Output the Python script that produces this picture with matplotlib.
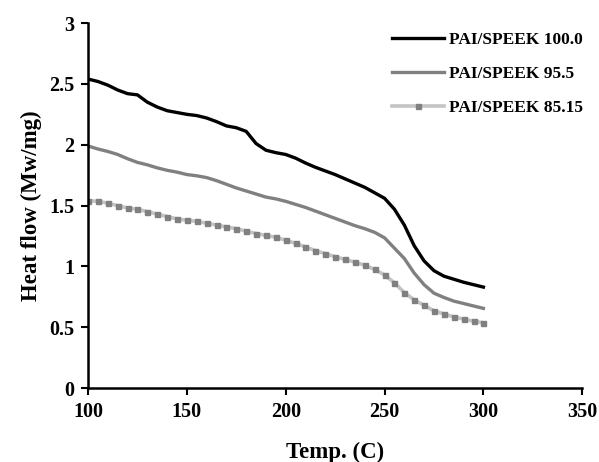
import matplotlib.pyplot as plt

plt.rcParams['font.family'] = ['Liberation Serif', 'DejaVu Serif']
plt.rcParams['font.weight'] = 'bold'

# temperature (C), one reading every 5 degrees
temp = list(range(100, 305, 5))

pai_100 = [2.54, 2.52, 2.49, 2.45, 2.42, 2.41, 2.35, 2.31, 2.28, 2.265,
           2.25, 2.24, 2.22, 2.19, 2.155, 2.14, 2.11, 2.01, 1.955, 1.935,
           1.92, 1.89, 1.85, 1.815, 1.785, 1.755, 1.72, 1.685, 1.65, 1.605,
           1.56, 1.47, 1.34, 1.17, 1.045, 0.965, 0.92, 0.895, 0.87, 0.85, 0.83]

pai_95 = [1.99, 1.965, 1.945, 1.92, 1.885, 1.855, 1.835, 1.81, 1.79, 1.775,
          1.755, 1.745, 1.73, 1.705, 1.675, 1.645, 1.62, 1.595, 1.57, 1.555,
          1.535, 1.51, 1.485, 1.455, 1.425, 1.395, 1.365, 1.335, 1.31, 1.28,
          1.235, 1.15, 1.065, 0.945, 0.85, 0.78, 0.745, 0.715, 0.695, 0.675, 0.655]

pai_85 = [1.54, 1.535, 1.52, 1.5, 1.48, 1.47, 1.45, 1.43, 1.41, 1.39,
          1.38, 1.37, 1.355, 1.34, 1.325, 1.31, 1.29, 1.27, 1.255, 1.24,
          1.215, 1.19, 1.16, 1.13, 1.105, 1.08, 1.057, 1.035, 1.01, 0.975,
          0.93, 0.865, 0.785, 0.725, 0.68, 0.635, 0.61, 0.585, 0.567, 0.55, 0.537]

labels = ['PAI/SPEEK 100.0', 'PAI/SPEEK 95.5', 'PAI/SPEEK 85.15']

fig = plt.figure(figsize=(5.99, 4.62), dpi=100)
ax = fig.add_axes([0.147, 0.160, 0.825, 0.790])

ax.plot(temp, pai_100, color='black', lw=2.4, label=labels[0])
ax.plot(temp, pai_95, color='#808080', lw=2.4, label=labels[1])
ax.plot(temp, pai_85, color='#c4c4c4', lw=2.6, marker='s', ms=3.6,
        mfc='#808080', mec='#808080', label=labels[2])

ax.set_xlim(100, 350)
ax.set_ylim(0, 3)
ax.set_xticks([100, 150, 200, 250, 300, 350])
ax.set_yticks([0, 0.5, 1, 1.5, 2, 2.5, 3])
ax.set_yticklabels(['0', '0.5', '1', '1.5', '2', '2.5', '3'])

for s in ['top', 'right']:
    ax.spines[s].set_visible(False)
for s in ['left', 'bottom']:
    ax.spines[s].set_linewidth(1.8)
ax.tick_params(direction='out', length=5, width=1.5, labelsize=14.5, pad=5)

ax.set_xlabel('Temp. (C)', fontsize=16.5, fontweight='bold', labelpad=14)
ax.set_ylabel('Heat flow (Mw/mg)', fontsize=16.5, fontweight='bold', labelpad=5)

ax.legend(loc='upper left', bbox_to_anchor=(0.615, 0.975), frameon=False,
          fontsize=12.5, handlelength=3.0, handletextpad=0.3, labelspacing=1.02,
          borderpad=0, borderaxespad=0)

plt.savefig('out.png', dpi=100)
